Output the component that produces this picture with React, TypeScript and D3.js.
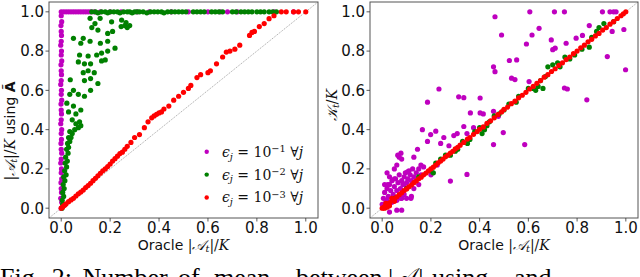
import * as d3 from "d3";

type Pt = [number, number];

const WIDTH = 640;
const HEIGHT = 277;

const TICKS = [0, 0.2, 0.4, 0.6, 0.8, 1.0];
const TICK_LABELS = ["0.0", "0.2", "0.4", "0.6", "0.8", "1.0"];
const DOMAIN: [number, number] = [-0.05, 1.05];

const COLORS = { m: "#bf00bf", g: "#008000", r: "#ff0000" };
const LEGEND_EXP = ["\u22121", "\u22122", "\u22123"];

// left panel: |A_t|/K using A~ vs oracle
const leftMagenta: Pt[] = [
  [0.0, 0.0], [0.002, 0.03], [-0.002, 0.05], [0.001, 0.08], [0.0, 0.1], [-0.001, 0.13],
  [0.002, 0.15], [0.0, 0.18], [0.001, 0.2], [-0.002, 0.23], [0.0, 0.25], [0.002, 0.28],
  [0.0, 0.3], [-0.001, 0.33], [0.001, 0.35], [0.0, 0.38], [0.002, 0.4], [-0.002, 0.43],
  [0.0, 0.45], [0.001, 0.48], [0.0, 0.5], [-0.001, 0.53], [0.002, 0.55], [0.0, 0.58],
  [0.001, 0.6], [-0.002, 0.63], [0.0, 0.65], [0.001, 0.68], [0.0, 0.7], [-0.001, 0.73],
  [0.002, 0.75], [0.0, 0.78], [0.001, 0.8], [-0.002, 0.83], [0.0, 0.85], [0.001, 0.88],
  [0.0, 0.9], [-0.001, 0.93], [0.002, 0.95], [0.0, 0.98], [0.0, 1.0],
  [0.01, 1], [0.02, 1], [0.03, 1], [0.04, 1], [0.05, 1], [0.06, 1], [0.07, 1], [0.08, 1],
  [0.09, 1], [0.1, 1], [0.11, 1], [0.12, 1], [0.135, 1], [0.16, 1], [0.2, 1], [0.245, 1],
  [0.31, 1], [0.36, 1], [0.45, 1], [0.52, 1], [0.6, 1], [0.65, 1], [0.68, 1], [0.72, 1],
  [0.87, 1], [0.95, 1],
];

const leftGreen: Pt[] = [
  // along the top
  [0.125, 1], [0.14, 1], [0.15, 0.995], [0.165, 1], [0.18, 1], [0.19, 0.995], [0.2, 1],
  [0.215, 1], [0.23, 1], [0.24, 0.995], [0.255, 1], [0.27, 1], [0.28, 1], [0.29, 0.995],
  [0.3, 1], [0.31, 1], [0.32, 1], [0.335, 1], [0.35, 0.995], [0.365, 1], [0.38, 1],
  [0.395, 1], [0.41, 1], [0.42, 0.995], [0.435, 1], [0.45, 1], [0.465, 1], [0.48, 1],
  [0.495, 1], [0.51, 1], [0.54, 1], [0.555, 1], [0.57, 1], [0.585, 1], [0.615, 1],
  [0.63, 1], [0.645, 1], [0.66, 1], [0.7, 1], [0.715, 1], [0.735, 1], [0.75, 1], [0.765, 1],
  [0.78, 1], [0.8, 1], [0.815, 1], [0.83, 1], [0.85, 1], [0.865, 1], [0.88, 1],
  // rising cloud
  [0.003, 0.0], [0.006, 0.02], [0.004, 0.04], [0.01, 0.06], [0.006, 0.08], [0.012, 0.1],
  [0.008, 0.12], [0.015, 0.14], [0.01, 0.16], [0.02, 0.17], [0.014, 0.19], [0.022, 0.21],
  [0.016, 0.23], [0.025, 0.24], [0.018, 0.26], [0.028, 0.28], [0.022, 0.3], [0.03, 0.31],
  [0.026, 0.33], [0.035, 0.34], [0.03, 0.36], [0.04, 0.36], [0.045, 0.38], [0.035, 0.39],
  [0.055, 0.4], [0.07, 0.41], [0.08, 0.42], [0.06, 0.43], [0.045, 0.45], [0.075, 0.44],
  [0.03, 0.49], [0.06, 0.48], [0.05, 0.52], [0.08, 0.5], [0.023, 0.535], [0.035, 0.58],
  [0.07, 0.58], [0.095, 0.57], [0.05, 0.6], [0.12, 0.6], [0.15, 0.635], [0.037, 0.654],
  [0.095, 0.65], [0.12, 0.66], [0.09, 0.69], [0.11, 0.7], [0.135, 0.69], [0.07, 0.745],
  [0.095, 0.735], [0.12, 0.735], [0.165, 0.75], [0.18, 0.755], [0.075, 0.78], [0.11, 0.775],
  [0.145, 0.78], [0.165, 0.79], [0.19, 0.8], [0.22, 0.815], [0.08, 0.84], [0.118, 0.85],
  [0.16, 0.84], [0.19, 0.85], [0.05, 0.865], [0.09, 0.865], [0.19, 0.89], [0.21, 0.9],
  [0.15, 0.907], [0.125, 0.92], [0.138, 0.94], [0.118, 0.967], [0.159, 0.967], [0.206, 0.949],
  [0.247, 0.958], [0.26, 0.93], [0.27, 0.92], [0.28, 0.93], [0.245, 0.925], [0.265, 0.945],
];

const leftRed: Pt[] = [
  [0.0, 0.0], [0.005, 0.005], [0.01, 0.012], [0.015, 0.016], [0.02, 0.022], [0.03, 0.033],
  [0.04, 0.042], [0.05, 0.05], [0.06, 0.062], [0.07, 0.073], [0.08, 0.082], [0.09, 0.092],
  [0.1, 0.105], [0.11, 0.115], [0.12, 0.127], [0.13, 0.14], [0.14, 0.152], [0.15, 0.165],
  [0.16, 0.178], [0.17, 0.19], [0.18, 0.2], [0.19, 0.212], [0.2, 0.225], [0.21, 0.24],
  [0.22, 0.252], [0.23, 0.265], [0.24, 0.278], [0.25, 0.285], [0.26, 0.3], [0.27, 0.315],
  [0.285, 0.335], [0.3, 0.36], [0.32, 0.375], [0.34, 0.41], [0.355, 0.44], [0.37, 0.46],
  [0.38, 0.47], [0.39, 0.478], [0.4, 0.485], [0.41, 0.49], [0.42, 0.505], [0.44, 0.52],
  [0.46, 0.55], [0.48, 0.57], [0.5, 0.59], [0.52, 0.61], [0.53, 0.625], [0.555, 0.665],
  [0.57, 0.68], [0.6, 0.69], [0.61, 0.7], [0.635, 0.735], [0.66, 0.77], [0.675, 0.795],
  [0.69, 0.8], [0.71, 0.81], [0.73, 0.83], [0.77, 0.88], [0.78, 0.895], [0.79, 0.9],
  [0.81, 0.925], [0.83, 0.94], [0.85, 0.965], [0.87, 0.98], [0.9, 1], [0.92, 1],
  [0.95, 1], [0.97, 1], [1.0, 1],
];

// right panel: K_t/K vs oracle
const rightMagenta: Pt[] = [
  [0.0, 0.02], [0.005, 0.05], [0.01, 0.08], [0.015, 0.03], [0.02, 0.1], [0.025, 0.06],
  [0.03, 0.12], [0.01, 0.12], [0.035, 0.09], [0.04, 0.14], [0.045, 0.07], [0.05, 0.11],
  [0.055, 0.15], [0.06, 0.09], [0.065, 0.13], [0.07, 0.17], [0.075, 0.1], [0.08, 0.14],
  [0.085, 0.12], [0.09, 0.16], [0.095, 0.18], [0.1, 0.13], [0.105, 0.15], [0.11, 0.19],
  [0.115, 0.17], [0.12, 0.14], [0.125, 0.2], [0.13, 0.16], [0.14, 0.18], [0.15, 0.2],
  [0.16, 0.17], [0.17, 0.21], [0.02, 0.04], [0.03, 0.02], [0.04, 0.03], [0.05, 0.05],
  [0.06, 0.04], [0.07, 0.06], [0.08, 0.05], [0.09, 0.07], [0.03, 0.16], [0.02, 0.18],
  [0.05, 0.2], [0.06, 0.22], [0.08, 0.25], [0.07, 0.26], [0.077, 0.28], [0.064, 0.27],
  [0.13, 0.26], [0.145, 0.3], [0.186, 0.34], [0.199, 0.375], [0.165, 0.4], [0.22, 0.392],
  [0.186, 0.54], [0.233, 0.607], [0.24, 0.33], [0.253, 0.36], [0.274, 0.318], [0.294, 0.37],
  [0.308, 0.38], [0.335, 0.416], [0.348, 0.38], [0.375, 0.41], [0.362, 0.485], [0.402, 0.485],
  [0.415, 0.48], [0.314, 0.567], [0.335, 0.563], [0.402, 0.561], [0.457, 0.493], [0.477, 0.468],
  [0.497, 0.385], [0.457, 0.324], [0.348, 0.172], [0.28, 0.138], [0.585, 0.324], [0.457, 0.72],
  [0.463, 0.695], [0.522, 0.752], [0.552, 0.755], [0.531, 0.662], [0.545, 0.655], [0.603, 0.645],
  [0.463, 0.975], [0.49, 0.882], [0.606, 1.0], [0.615, 0.882], [0.592, 0.836], [0.644, 0.916],
  [0.707, 1.0], [0.748, 1.0], [0.694, 0.857], [0.7, 0.807], [0.71, 0.815], [0.755, 0.84],
  [0.748, 0.612], [0.76, 0.607], [0.796, 0.866], [0.822, 0.88], [0.85, 0.93], [0.84, 0.552],
  [0.924, 0.772], [0.904, 1.0], [0.935, 1.0], [0.95, 1.0], [0.96, 1.0], [0.944, 0.9],
  [0.992, 0.91], [0.999, 0.705], [0.03, -0.02], [0.06, -0.01], [0.1, 0.05], [0.12, 0.06],
  [0.08, -0.01], [0.13, 0.1], [0.15, 0.12], [0.2, 0.17], [0.226, 0.22], [0.159, 0.22],
  [0.104, 0.185], [0.05, 0.15], [0.091, 0.12], [0.118, 0.05], [0.077, 0.05], [0.023, 0.12],
];

const rightGreen: Pt[] = [
  [0.05, 0.05], [0.1, 0.1], [0.15, 0.16], [0.2, 0.19], [0.21, 0.18], [0.22, 0.23],
  [0.24, 0.25], [0.26, 0.27], [0.28, 0.27], [0.3, 0.29], [0.31, 0.3], [0.33, 0.34],
  [0.35, 0.33], [0.36, 0.35], [0.38, 0.39], [0.4, 0.41], [0.42, 0.4], [0.41, 0.38],
  [0.43, 0.42], [0.44, 0.44], [0.46, 0.47], [0.48, 0.48], [0.5, 0.5], [0.52, 0.53],
  [0.55, 0.54], [0.56, 0.57], [0.6, 0.61], [0.62, 0.61], [0.63, 0.6], [0.64, 0.62],
  [0.65, 0.65], [0.66, 0.61], [0.67, 0.67], [0.68, 0.72], [0.7, 0.73], [0.72, 0.74],
  [0.73, 0.72], [0.75, 0.77], [0.77, 0.76], [0.79, 0.78], [0.82, 0.81], [0.85, 0.82],
  [0.86, 0.87], [0.88, 0.9], [0.89, 0.92], [0.91, 0.94], [0.95, 0.95],
];

const rightRed: Pt[] = [
  [0.0, 0.0], [0.005, 0.002], [0.01, 0.008], [0.015, 0.012], [0.02, 0.018], [0.03, 0.027],
  [0.04, 0.038], [0.05, 0.048], [0.06, 0.058], [0.07, 0.069], [0.08, 0.078], [0.09, 0.09],
  [0.1, 0.098], [0.11, 0.109], [0.12, 0.118], [0.13, 0.13], [0.14, 0.139], [0.15, 0.15],
  [0.16, 0.158], [0.17, 0.17], [0.18, 0.179], [0.19, 0.19], [0.2, 0.2], [0.21, 0.209],
  [0.22, 0.22], [0.23, 0.231], [0.24, 0.24], [0.25, 0.25], [0.26, 0.262], [0.27, 0.27],
  [0.28, 0.281], [0.29, 0.29], [0.3, 0.302], [0.31, 0.31], [0.32, 0.321], [0.335, 0.335],
  [0.35, 0.352], [0.36, 0.36], [0.375, 0.376], [0.39, 0.39], [0.4, 0.402], [0.415, 0.414],
  [0.43, 0.432], [0.445, 0.445], [0.46, 0.46], [0.475, 0.476], [0.49, 0.49], [0.5, 0.503],
  [0.515, 0.515], [0.53, 0.532], [0.545, 0.545], [0.56, 0.562], [0.575, 0.575], [0.59, 0.59],
  [0.605, 0.607], [0.62, 0.62], [0.635, 0.636], [0.65, 0.65], [0.665, 0.667], [0.68, 0.68],
  [0.695, 0.696], [0.71, 0.71], [0.725, 0.727], [0.74, 0.74], [0.755, 0.757], [0.77, 0.77],
  [0.785, 0.787], [0.8, 0.8], [0.815, 0.817], [0.83, 0.83], [0.845, 0.847], [0.86, 0.86],
  [0.875, 0.877], [0.89, 0.89], [0.905, 0.907], [0.92, 0.92], [0.935, 0.937], [0.95, 0.95],
  [0.965, 0.966], [0.98, 0.98], [0.99, 0.99], [1.0, 1.0], [0.01, 0.0], [0.02, 0.005],
  [0.03, 0.012], [0.015, 0.025], [0.04, 0.05], [0.05, 0.035],
];

const SANS = "DejaVu Sans, sans-serif";
const SERIF = "DejaVu Serif, serif";

// |A_t|/K in math-ish type
const AtOverK = () => (
  <>
    <tspan fontFamily={SERIF}>|</tspan>
    <tspan fontFamily={SERIF} fontStyle="italic">{"\u{1D49C}"}</tspan>
    <tspan fontFamily={SERIF} fontStyle="italic" fontSize="0.7em" dy="0.25em">t</tspan>
    <tspan fontFamily={SERIF} dy="-0.18em">|/</tspan>
    <tspan fontFamily={SERIF} fontStyle="italic">K</tspan>
  </>
);

type PanelProps = {
  x0: number;
  x1: number;
  magenta: Pt[];
  green: Pt[];
  red: Pt[];
  yLabel: React.ReactNode;
  yLabelPos: [number, number];
  legend?: boolean;
};

const Panel = ({ x0, x1, magenta, green, red, yLabel, yLabelPos, legend }: PanelProps) => {
  const top = 2;
  const bottom = 218;
  const x = d3.scaleLinear().domain(DOMAIN).range([x0, x1]);
  const y = d3.scaleLinear().domain(DOMAIN).range([bottom, top]);
  const r = 2.6;

  const dots = (pts: Pt[], color: string, key: string) =>
    pts.map((d, i) => <circle key={key + i} cx={x(d[0])} cy={y(d[1])} r={r} fill={color} />);

  return (
    <g>
      <line
        x1={x(DOMAIN[0])}
        y1={y(DOMAIN[0])}
        x2={x(DOMAIN[1])}
        y2={y(DOMAIN[1])}
        stroke="#888"
        strokeWidth={0.7}
        strokeDasharray="1.2,1"
      />
      {dots(magenta, COLORS.m, "m")}
      {dots(green, COLORS.g, "g")}
      {dots(red, COLORS.r, "r")}
      <rect x={x0} y={top} width={x1 - x0} height={bottom - top} fill="none" stroke="#555" strokeWidth={1} />
      {TICKS.map((t, i) => (
        <g key={"xt" + i}>
          <line x1={x(t)} x2={x(t)} y1={bottom} y2={bottom + 3.5} stroke="#333" strokeWidth={0.8} />
          <text x={x(t)} y={233} textAnchor="middle" fontSize={15} fontFamily={SANS} fill="#111">
            {TICK_LABELS[i]}
          </text>
          <line x1={x0 - 3.5} x2={x0} y1={y(t)} y2={y(t)} stroke="#333" strokeWidth={0.8} />
          <text x={x0 - 5} y={y(t)} dy="0.36em" textAnchor="end" fontSize={15} fontFamily={SANS} fill="#111">
            {TICK_LABELS[i]}
          </text>
        </g>
      ))}
      <text x={(x(0) + x(1)) / 2} y={250} textAnchor="middle" fontSize={14} fontFamily={SANS} fill="#111">
        <tspan>Oracle </tspan>
        <AtOverK />
      </text>
      <text
        transform={`translate(${yLabelPos[0]},${yLabelPos[1]}) rotate(-90)`}
        textAnchor="middle"
        fontSize={14}
        fontFamily={SANS}
        fill="#111"
      >
        {yLabel}
      </text>
      {legend &&
        [COLORS.m, COLORS.g, COLORS.r].map((c, i) => {
          const ly = 151.7 + i * 22.9;
          return (
            <g key={"lg" + i}>
              <circle cx={206.7} cy={ly} r={2.2} fill={c} />
              <text x={222} y={ly} dy="0.35em" fontSize={14} fontFamily={SERIF} fill="#111">
                <tspan fontStyle="italic">{"\u03F5"}</tspan>
                <tspan fontStyle="italic" fontSize="0.7em" dy="0.3em">j</tspan>
                <tspan dy="-0.21em"> = 10</tspan>
                <tspan fontSize="0.7em" dy="-0.5em">{LEGEND_EXP[i]}</tspan>
                <tspan dy="0.35em"> {"\u2200"}</tspan>
                <tspan fontStyle="italic">j</tspan>
              </text>
            </g>
          );
        })}
    </g>
  );
};

export default function App() {
  return (
    <svg
      width={WIDTH}
      height={HEIGHT}
      style={{ position: "fixed", left: 0, top: 0, background: "#fff" }}
    >
      <rect width={WIDTH} height={HEIGHT} fill="#fff" />
      <Panel
        x0={49}
        x1={318}
        magenta={leftMagenta}
        green={leftGreen}
        red={leftRed}
        legend
        yLabelPos={[15, 131]}
        yLabel={
          <>
            <AtOverK />
            <tspan> using </tspan>
            <tspan fontWeight="bold">{"A\u0303"}</tspan>
          </>
        }
      />
      <Panel
        x0={370}
        x1={638}
        magenta={rightMagenta}
        green={rightGreen}
        red={rightRed}
        yLabelPos={[337, 105]}
        yLabel={
          <>
            <tspan fontFamily={SERIF} fontStyle="italic">{"\u{1D4A6}"}</tspan>
            <tspan fontFamily={SERIF} fontStyle="italic" fontSize="0.7em" dy="0.25em">t</tspan>
            <tspan fontFamily={SERIF} dy="-0.18em">/</tspan>
            <tspan fontFamily={SERIF} fontStyle="italic">K</tspan>
          </>
        }
      />
      <text y={286} fontSize={26} fontFamily="Liberation Serif, serif" fill="#000" wordSpacing={4}>
        <tspan x={0}>Fig. 2: Number of</tspan>
        <tspan x={214}>mean</tspan>
        <tspan x={296}>between</tspan>
        <tspan x={388}>|{"\u{1D49C}"}|</tspan>
        <tspan x={432}>using</tspan>
        <tspan x={514}>and</tspan>
      </text>
    </svg>
  );
}
